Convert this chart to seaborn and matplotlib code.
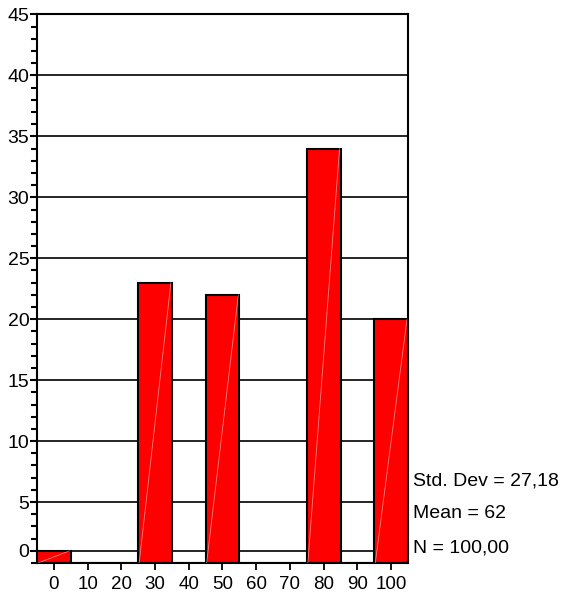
import numpy as np
import matplotlib
matplotlib.use("Agg")
import matplotlib.pyplot as plt
from matplotlib.ticker import MultipleLocator
import seaborn as sns

# Histogram counts per 10-point bin
bin_centers = [0, 10, 20, 30, 40, 50, 60, 70, 80, 90, 100]
counts = [1, 0, 0, 23, 0, 22, 0, 0, 34, 0, 20]
bin_edges = [-5, 5, 15, 25, 35, 45, 55, 65, 75, 85, 95, 105]

y_tick_pos = [1, 5, 10, 15, 20, 25, 30, 35, 40, 45]
y_tick_labels = ["0", "5", "10", "15", "20", "25", "30", "35", "40", "45"]
x_ticks = [0, 10, 20, 30, 40, 50, 60, 70, 80, 90, 100]

stats_lines = ["Std. Dev = 27,18", "Mean = 62", "N = 100,00"]

sns.set_theme(style="white")
plt.rcParams["font.family"] = ["Liberation Sans", "DejaVu Sans"]

fig = plt.figure(figsize=(5.7, 5.99), dpi=100)
ax = fig.add_axes([0.0649, 0.0601, 0.7158 - 0.0649, 0.9758 - 0.0601])

# horizontal reference lines behind the bars
for yv in y_tick_pos:
    ax.axhline(yv, color="black", lw=1.2, zorder=0)

sns.histplot(x=bin_centers, weights=counts, bins=bin_edges, ax=ax,
             color="#ff0000", edgecolor="black", linewidth=1.5, alpha=1,
             zorder=2)

# faint diagonal stroke inside each bar
for p in ax.patches:
    h = p.get_height()
    if h > 0:
        x0 = p.get_x()
        x1 = x0 + p.get_width()
        ax.plot([x0 + 0.3, x1 - 0.3], [0, h], color="white", lw=0.6,
                alpha=0.5, zorder=3)

ax.set_xlim(-5, 105)
ax.set_ylim(0, 45)
ax.set_xticks(x_ticks)
ax.set_xticklabels([str(v) for v in x_ticks])
ax.set_yticks(y_tick_pos)
ax.set_yticklabels(y_tick_labels)
ax.yaxis.set_minor_locator(MultipleLocator(1))
ax.set_xlabel("")
ax.set_ylabel("")

ax.tick_params(axis="y", which="major", left=True, length=5, width=1.5,
               color="black", labelsize=14, pad=0.5, labelcolor="black")
ax.tick_params(axis="y", which="minor", left=True, length=4, width=1.5,
               color="black")
ax.tick_params(axis="x", which="major", bottom=True, length=5, width=1.3,
               color="black", labelsize=13.5, pad=4, labelcolor="black")

for side in ["left", "bottom", "right", "top"]:
    ax.spines[side].set_visible(True)
    ax.spines[side].set_color("black")
    ax.spines[side].set_linewidth(1.5)

# summary statistics to the right of the plot
baselines = [599 - 485, 599 - 518.5, 599 - 552.5]
for txt, yb in zip(stats_lines, baselines):
    fig.text(413 / 570, yb / 599, txt, fontsize=14, color="black",
             ha="left", va="baseline")

fig.savefig("out.png", dpi=100, facecolor="white")
